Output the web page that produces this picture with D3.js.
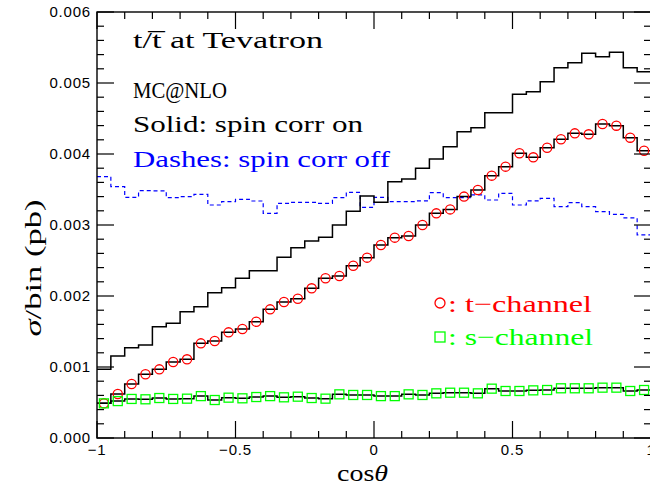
<!DOCTYPE html>
<html>
<head>
    <meta charset="utf-8">
    <title>t/tbar spin correlations</title>
    <style>
        * { margin: 0; padding: 0; }
        body { background: #fff; }
        svg { display: block; }
        .tick-label { font-family: "Liberation Sans", Arial, sans-serif; font-size: 15px; letter-spacing: 0.8px; }
        .note { font-family: "Liberation Serif", "Times New Roman", serif; font-size: 24px; }
    </style>
    <script src="https://cdn.jsdelivr.net/npm/d3@7"></script>
</head>
<body>
<div id="root"></div>
<script>
    // 40 bins of cos(theta) between -1 and 1, values in units of 1e-3 pb
    var binStart = -1, binWidth = 0.05;

    var spinOn = [0.967, 1.155, 1.272, 1.31, 1.568, 1.615, 1.779, 1.85, 2.047, 2.117,
        2.249, 2.357, 2.357, 2.545, 2.681, 2.775, 2.826, 3.0, 3.195, 3.408,
        3.32, 3.61, 3.648, 3.798, 3.93, 4.103, 4.315, 4.37, 4.58, 4.58,
        4.84, 4.878, 5.019, 5.216, 5.286, 5.418, 5.37, 5.432, 5.216, 5.16];

    var spinOff = [3.681, 3.54, 3.39, 3.483, 3.48, 3.385, 3.40, 3.432, 3.282, 3.329,
        3.362, 3.338, 3.164, 3.305, 3.319, 3.319, 3.305, 3.385, 3.46, 3.249,
        3.39, 3.329, 3.329, 3.34, 3.455, 3.385, 3.385, 3.423, 3.352, 3.446,
        3.282, 3.34, 3.376, 3.258, 3.315, 3.258, 3.188, 3.15, 3.10, 2.86];

    var tChannel = [0.488, 0.62, 0.76, 0.897, 0.967, 1.07, 1.108, 1.333, 1.366, 1.488,
        1.535, 1.638, 1.812, 1.915, 1.962, 2.108, 2.249, 2.282, 2.427, 2.54,
        2.718, 2.822, 2.845, 3.0, 3.164, 3.22, 3.40, 3.493, 3.695, 3.822,
        4.01, 3.953, 4.089, 4.207, 4.291, 4.277, 4.423, 4.399, 4.23, 4.047];

    var sChannel = [0.488, 0.52, 0.55, 0.545, 0.563, 0.55, 0.554, 0.59, 0.535, 0.568,
        0.559, 0.577, 0.59, 0.573, 0.582, 0.563, 0.554, 0.615, 0.606, 0.606,
        0.59, 0.59, 0.615, 0.606, 0.629, 0.638, 0.638, 0.629, 0.695, 0.662,
        0.662, 0.671, 0.676, 0.70, 0.70, 0.70, 0.709, 0.709, 0.662, 0.676];

    var xTicks = [-1, -0.5, 0, 0.5, 1];
    var xTickLabels = ["\u22121", "\u22120.5", "0", "0.5", "1"];
    var yTicks = [0, 0.001, 0.002, 0.003, 0.004, 0.005, 0.006];
    var yTickLabels = ["0.000", "0.001", "0.002", "0.003", "0.004", "0.005", "0.006"];

    var width = 650, height = 485;
    var mLeft = 97, mRight = 651, mTop = 12, mBottom = 438;

    var svg = d3.select("#root").append("svg").attr("width", width).attr("height", height);

    var x = d3.scaleLinear().domain([-1, 1]).range([mLeft, mRight]);
    var y = d3.scaleLinear().domain([0, 0.006]).range([mBottom, mTop]);

    function histPoints(values) {
        var pts = values.map(function (v, i) { return [binStart + i * binWidth, v / 1000]; });
        pts.push([binStart + values.length * binWidth, values[values.length - 1] / 1000]);
        return pts;
    }
    function centers(values) {
        return values.map(function (v, i) { return [binStart + (i + 0.5) * binWidth, v / 1000]; });
    }

    var line = d3.line().x(function (d) { return x(d[0]); }).y(function (d) { return y(d[1]); }).curve(d3.curveStepAfter);

    svg.append("defs").append("clipPath").attr("id", "clip")
        .append("rect").attr("x", mLeft).attr("y", mTop).attr("width", mRight - mLeft).attr("height", mBottom - mTop);

    var plot = svg.append("g").attr("clip-path", "url(#clip)");

    plot.append("path").attr("d", line(histPoints(spinOff)))
        .attr("fill", "none").attr("stroke", "#0000ff").attr("stroke-width", 1.2).attr("stroke-dasharray", "4,3");
    plot.append("path").attr("d", line(histPoints(spinOn)))
        .attr("fill", "none").attr("stroke", "#000").attr("stroke-width", 1.5);
    plot.append("path").attr("d", line(histPoints(tChannel)))
        .attr("fill", "none").attr("stroke", "#000").attr("stroke-width", 1.5);
    plot.append("path").attr("d", line(histPoints(sChannel)))
        .attr("fill", "none").attr("stroke", "#000").attr("stroke-width", 1.5);

    plot.append("g").selectAll("circle").data(centers(tChannel)).enter()
        .append("circle")
        .attr("cx", function (d) { return x(d[0]); })
        .attr("cy", function (d) { return y(d[1]); })
        .attr("r", 4.6)
        .attr("fill", "none").attr("stroke", "#ff0000").attr("stroke-width", 1.3);

    plot.append("g").selectAll("rect").data(centers(sChannel)).enter()
        .append("rect")
        .attr("x", function (d) { return x(d[0]) - 4.5; })
        .attr("y", function (d) { return y(d[1]) - 4.5; })
        .attr("width", 9).attr("height", 9)
        .attr("fill", "none").attr("stroke", "#00ff00").attr("stroke-width", 1.3);

    // frame with ticks on all four sides
    var axisColor = "#000";
    var frame = svg.append("g");
    frame.append("rect").attr("x", mLeft).attr("y", mTop).attr("width", mRight - mLeft).attr("height", mBottom - mTop)
        .attr("fill", "none").attr("stroke", axisColor).attr("stroke-width", 1.4);

    var xMinor = d3.range(-10, 11).map(function (i) { return i / 10; });
    var yMinor = d3.range(0, 31).map(function (i) { return i * 0.0002; });

    function isMajorX(v) { return Math.abs(v * 2 - Math.round(v * 2)) < 1e-9; }
    function isMajorY(v) { return Math.abs(v * 1000 - Math.round(v * 1000)) < 1e-9; }

    xMinor.forEach(function (v) {
        var len = isMajorX(v) ? 17 : 7;
        frame.append("line").attr("x1", x(v)).attr("x2", x(v)).attr("y1", mBottom).attr("y2", mBottom - len)
            .attr("stroke", axisColor).attr("stroke-width", 1.2);
        frame.append("line").attr("x1", x(v)).attr("x2", x(v)).attr("y1", mTop).attr("y2", mTop + len)
            .attr("stroke", axisColor).attr("stroke-width", 1.2);
    });
    yMinor.forEach(function (v) {
        var len = isMajorY(v) ? 17 : 7;
        frame.append("line").attr("x1", mLeft).attr("x2", mLeft + len).attr("y1", y(v)).attr("y2", y(v))
            .attr("stroke", axisColor).attr("stroke-width", 1.2);
        frame.append("line").attr("x1", mRight).attr("x2", mRight - len).attr("y1", y(v)).attr("y2", y(v))
            .attr("stroke", axisColor).attr("stroke-width", 1.2);
    });

    svg.append("g").selectAll("text").data(xTicks).enter()
        .append("text").attr("class", "tick-label")
        .attr("x", function (d) { return x(d); })
        .attr("y", 455)
        .attr("text-anchor", "middle")
        .text(function (d, i) { return xTickLabels[i]; });

    svg.append("g").selectAll("text").data(yTicks).enter()
        .append("text").attr("class", "tick-label")
        .attr("x", 91)
        .attr("y", function (d) { return y(d) + 5; })
        .attr("text-anchor", "end")
        .text(function (d, i) { return yTickLabels[i]; });

    // axis titles
    var xt = svg.append("text").attr("class", "note").attr("x", 337).attr("y", 481).attr("font-size", 25)
        .attr("textLength", 51).attr("lengthAdjust", "spacingAndGlyphs");
    xt.append("tspan").text("cos");
    xt.append("tspan").attr("font-style", "italic").text("\u03b8");

    var yt = svg.append("text").attr("class", "note")
        .attr("transform", "translate(41,268) rotate(-90)").attr("text-anchor", "middle")
        .attr("textLength", 137).attr("lengthAdjust", "spacingAndGlyphs");
    yt.append("tspan").attr("font-style", "italic").text("\u03c3");
    yt.append("tspan").text("/bin (pb)");

    // annotations
    var t1 = svg.append("text").attr("class", "note").attr("x", 133).attr("y", 48).attr("font-size", 25)
        .attr("textLength", 190).attr("lengthAdjust", "spacingAndGlyphs");
    t1.append("tspan").text("t/t\u0305 at Tevatron");

    svg.append("text").attr("class", "note").attr("x", 133).attr("y", 98).text("MC@NLO")
        .attr("textLength", 94).attr("lengthAdjust", "spacingAndGlyphs");
    svg.append("text").attr("class", "note").attr("x", 133).attr("y", 132).text("Solid: spin corr on")
        .attr("textLength", 230).attr("lengthAdjust", "spacingAndGlyphs");
    svg.append("text").attr("class", "note").attr("x", 133).attr("y", 167).attr("fill", "#0000ff")
        .text("Dashes: spin corr off").attr("textLength", 257).attr("lengthAdjust", "spacingAndGlyphs");

    // legend
    svg.append("circle").attr("cx", 440).attr("cy", 303).attr("r", 5)
        .attr("fill", "none").attr("stroke", "#ff0000").attr("stroke-width", 1.3);
    svg.append("text").attr("class", "note").attr("x", 448).attr("y", 312).attr("fill", "#ff0000")
        .text(": t\u2212channel").attr("textLength", 144).attr("lengthAdjust", "spacingAndGlyphs");
    svg.append("rect").attr("x", 435).attr("y", 332).attr("width", 10).attr("height", 10)
        .attr("fill", "none").attr("stroke", "#00ff00").attr("stroke-width", 1.3);
    svg.append("text").attr("class", "note").attr("x", 448).attr("y", 345).attr("fill", "#00ff00")
        .text(": s\u2212channel").attr("textLength", 145).attr("lengthAdjust", "spacingAndGlyphs");
</script>
</body>
</html>
